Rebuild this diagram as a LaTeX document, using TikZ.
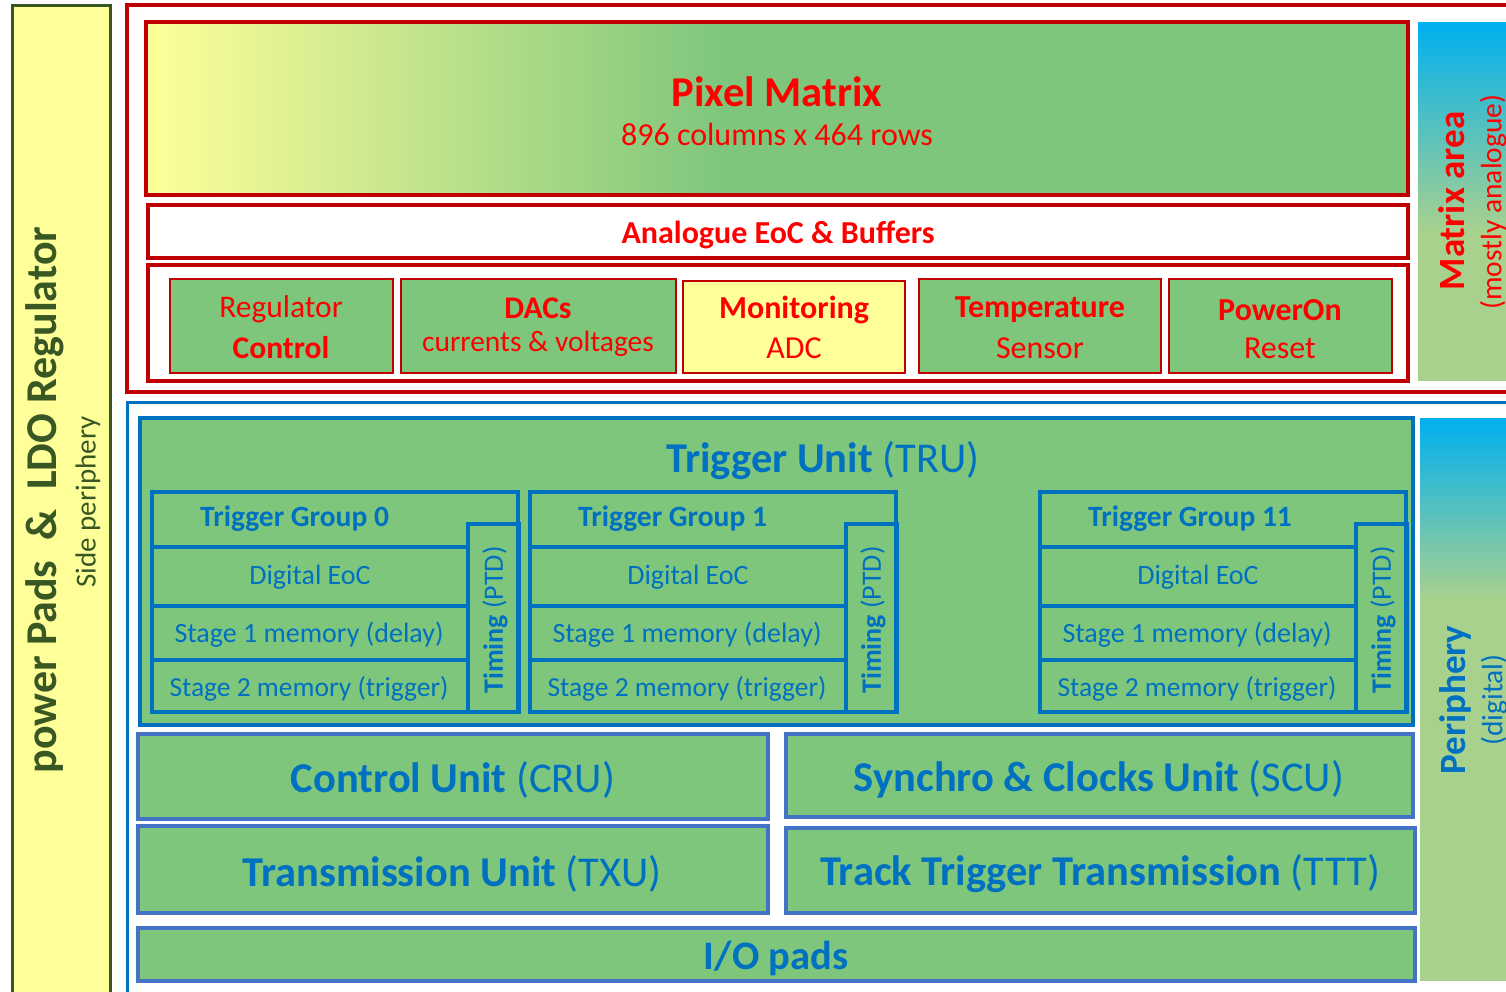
\documentclass[tikz,border=0pt]{standalone}
\usepackage{fontspec}
\setmainfont{Carlito}
\definecolor{padyel}{HTML}{FFFF99}
\definecolor{padgreen}{HTML}{385723}
\definecolor{darkred}{HTML}{C00000}
\definecolor{txtred}{HTML}{FF0000}
\definecolor{blkgreen}{HTML}{7FC67D}
\definecolor{tblue}{HTML}{0070C0}
\definecolor{lblue}{HTML}{4472C4}
\definecolor{skyblue}{HTML}{00B0F0}
\definecolor{palegreen}{HTML}{A9D18E}
\newcommand\fsz[1]{\fontsize{#1}{#1}\selectfont}
\begin{document}
\begin{tikzpicture}[x=1pt,y=-1pt,
  lbl/.style={inner sep=0pt,anchor=center},
  redbox/.style={draw=darkred,line width=4pt},
  redblk/.style={draw=darkred,line width=2pt,fill=blkgreen},
  bluebox/.style={draw=tblue,line width=4pt},
  lbluebox/.style={draw=lblue,line width=4pt,fill=blkgreen},
  rtxt/.style={lbl,text=txtred},
  btxt/.style={lbl,text=tblue}]
\useasboundingbox (0,0) rectangle (1506,991);
\begin{scope}
\clip (0,0) rectangle (1506,991);
\fill[white] (0,0) rectangle (1506,991);
% left power pads bar
\draw[fill=padyel,draw=padgreen,line width=3pt] (12,5) rectangle (110,1000);
\node[lbl,rotate=90,text=padgreen] (pads) at (45,500) {\fsz{44}\bfseries power Pads \ \& \ LDO Regulator};
\node[lbl,rotate=90,text=padgreen] (side) at (88,502) {\fsz{29}Side periphery};
% matrix area (red)
\draw[redbox] (127,5) rectangle (1530,392);
\shade[left color=padyel,right color=blkgreen] (146,22) rectangle (720,195);
\fill[blkgreen] (719,22) rectangle (1408,195);
\draw[redbox] (146,22) rectangle (1408,195);
\node[rtxt] (pm) at (777,92) {\fsz{42.5}\bfseries Pixel Matrix};
\node[rtxt] (pmsub) at (777,135) {\fsz{32}896 columns x 464 rows};
\draw[redbox,fill=white] (148,205) rectangle (1408,258);
\node[rtxt] (aeoc) at (778,235) {\fsz{32}\bfseries Analogue EoC \& Buffers};
\draw[redbox,fill=white] (148,265) rectangle (1408,381);
\draw[redblk] (170,279) rectangle (393,373);
\draw[redblk] (401,279) rectangle (676,373);
\draw[redblk,fill=padyel] (683,281) rectangle (905,373);
\draw[redblk] (919,279) rectangle (1161,373);
\draw[redblk] (1169,279) rectangle (1392,373);
\node[rtxt] (reg1) at (281,309) {\fsz{31.5}Regulator};
\node[rtxt] (reg2) at (281,348) {\fsz{31.5}\bfseries Control};
\node[rtxt] (dac1) at (538,308) {\fsz{31.5}\bfseries DACs};
\node[rtxt] (dac2) at (538,344) {\fsz{29.5}currents \& voltages};
\node[rtxt] (mon1) at (794,310) {\fsz{32}\bfseries Monitoring};
\node[rtxt] (mon2) at (794,348) {\fsz{32}ADC};
\node[rtxt] (tmp1) at (1040,310) {\fsz{32}\bfseries Temperature};
\node[rtxt] (tmp2) at (1040,348) {\fsz{32}Sensor};
\node[rtxt] (por1) at (1280,310) {\fsz{32}\bfseries PowerOn};
\node[rtxt] (por2) at (1280,348) {\fsz{32}Reset};
% matrix area side bar
\shade[top color=skyblue,bottom color=palegreen] (1418,22) rectangle (1530,232);
\fill[palegreen] (1418,231) rectangle (1530,381);
\node[rtxt,rotate=90] (ma) at (1452,201) {\fsz{37}\bfseries Matrix area};
\node[rtxt,rotate=90] (ma2) at (1493,202) {\fsz{29.5}(mostly analogue)};
% periphery (blue)
\draw[draw=tblue,line width=3pt] (127,402) rectangle (1530,1010);
\draw[bluebox,fill=blkgreen] (140,418) rectangle (1413,725);
\node[btxt] (tru) at (823,461) {\fsz{42.5}\textbf{Trigger Unit} (TRU)};
% trigger groups
\foreach \gx/\gn/\gl in {152/0/Trigger Group 0,530/1/Trigger Group 1,1040/11/Trigger Group 11}{
  \begin{scope}[shift={(\gx,0)}]
  \draw[bluebox] (0,492) rectangle (366,712);
  \draw[bluebox] (0,547) -- (316,547);
  \draw[bluebox] (0,606) -- (316,606);
  \draw[bluebox] (0,660) -- (316,660);
  \draw[bluebox] (316,524) rectangle (367,712);
  \node[btxt,anchor=west] (tg\gn) at (48,519) {\fsz{29.5}\bfseries \gl};
  \node[btxt] (de\gn) at (158,577) {\fsz{28}Digital EoC};
  \node[btxt] (s1\gn) at (157,635) {\fsz{28}Stage 1 memory (delay)};
  \node[btxt] (s2\gn) at (157,689) {\fsz{27.5}Stage 2 memory (trigger)};
  \node[btxt,rotate=90] (ti\gn) at (343,620) {\fsz{28}\textbf{Timing} (PTD)};
  \end{scope}
}
% other units
\draw[lbluebox] (138,734) rectangle (768,819);
\draw[lbluebox] (786,734) rectangle (1413,817);
\draw[lbluebox] (138,826) rectangle (768,913);
\draw[lbluebox] (786,828) rectangle (1415,913);
\draw[lbluebox] (138,928) rectangle (1415,981);
\node[btxt] (cru) at (453,780) {\fsz{42.5}\textbf{Control Unit} (CRU)};
\node[btxt] (scu) at (1099,779) {\fsz{42.5}\textbf{Synchro \& Clocks Unit} (SCU)};
\node[btxt] (txu) at (452,874) {\fsz{42.5}\textbf{Transmission Unit} (TXU)};
\node[btxt] (ttt) at (1100,874) {\fsz{42.5}\textbf{Track Trigger Transmission} (TTT)};
\node[btxt] (io) at (776,958) {\fsz{40.5}\bfseries I/O pads};
% periphery side bar
\shade[top color=skyblue,bottom color=palegreen] (1420,418) rectangle (1530,600);
\fill[palegreen] (1420,599) rectangle (1530,981);
\node[btxt,rotate=90] (per) at (1455,700) {\fsz{37}\bfseries Periphery};
\node[btxt,rotate=90] (per2) at (1494,700) {\fsz{29.5}(digital)};
\end{scope}
\end{tikzpicture}
\end{document}
